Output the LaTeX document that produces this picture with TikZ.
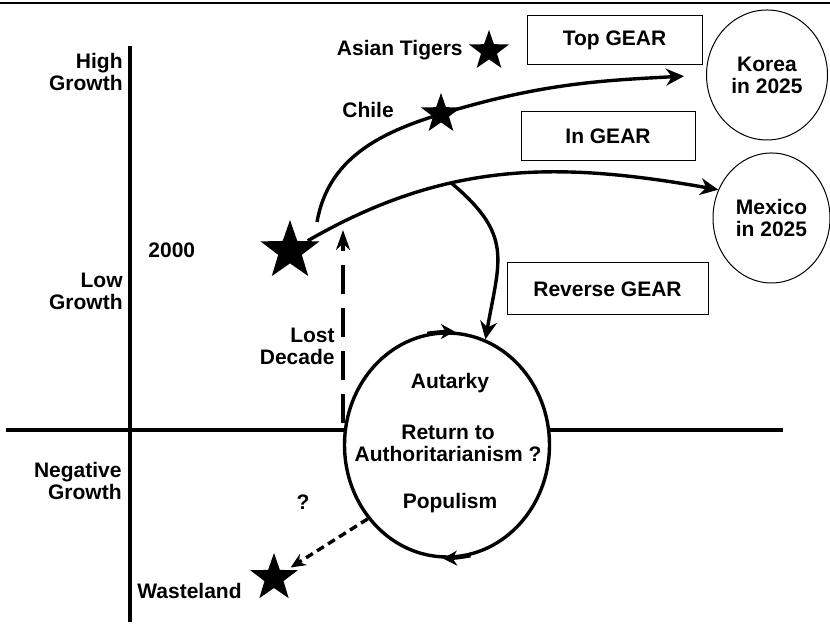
\documentclass[tikz,border=0pt]{standalone}
\usepackage{fontspec}
\setmainfont{Liberation Sans}
\usepackage{tikz}
\usetikzlibrary{positioning}
\usetikzlibrary{shapes.geometric}
\usetikzlibrary{arrows.meta}

\begin{document}
\begin{tikzpicture}[x=0.5pt, y=0.5pt, inner sep=0pt,
    font=\bfseries\fontsize{10.5}{11}\selectfont,
    axisline/.style={line width=1.6pt},
    gearbox/.style={draw, line width=0.5pt, minimum width=87.5pt, minimum height=24.5pt},
    futurebubble/.style={draw, ellipse, line width=0.5pt, align=center},
    starmark/.style={star, star points=5, star point ratio=2.5, fill=black},
    route/.style={line width=1.7pt, -{Stealth[length=9pt, width=8.5pt]}},
    lostline/.style={line width=1.7pt, dash pattern=on 14.5pt off 7pt, -{Stealth[length=10pt, width=7pt]}},
    fallline/.style={line width=1.7pt, dash pattern=on 4pt off 2.5pt, -{Stealth[length=7.5pt, width=6.5pt]}},
    cyctip/.style={line width=1.7pt, -{Stealth[length=7pt, width=7.5pt]}}]
    \useasboundingbox (0,0) rectangle (830,624);

    % Frame and axes
    \draw[line width=0.75pt] (0,621) -- (830,621);
    \draw[axisline] (130,578) -- (130,2);
    \draw[axisline] (6,194) -- (783,194);

    % Growth levels
    \node[anchor=east, align=right] (high) at (123,551.5) {High\\Growth};
    \node[anchor=east, align=right] (low) at (123,333) {Low\\Growth};
    \node[anchor=east, align=right] (negative) at (122,143) {Negative\\Growth};

    % Stars and their labels
    \node[starmark, minimum size=31pt] (today) at (290,373) {};
    \node[starmark, minimum size=21pt] (tigers) at (489,573) {};
    \node[starmark, minimum size=21pt] (chile) at (441,510) {};
    \node[starmark, minimum size=25pt] (waste) at (274,46) {};
    \node[anchor=west] (year) at (148,374) {2000};
    \node[anchor=east] (tigerstxt) at (463,574) {Asian Tigers};
    \node[anchor=west] (chiletxt) at (342,514) {Chile};
    \node[anchor=west] (wastetxt) at (137,33) {Wasteland};

    % Gears
    \node[gearbox] (topgear) at (614.5,583.5) {Top GEAR};
    \node[gearbox, minimum width=87pt] (ingear) at (608,487.5) {In GEAR};
    \node[gearbox, minimum width=100.5pt, minimum height=26pt] (revgear) at (607.5,335) {Reverse GEAR};

    % Outcomes in 2025
    \node[futurebubble, minimum width=60.5pt, minimum height=65pt] (korea) at (767,549) {Korea\\in 2025};
    \node[futurebubble, minimum width=58.5pt, minimum height=65pt] (mexico) at (771.5,406) {Mexico\\in 2025};

    % The trap
    \node[draw, fill=white, ellipse, line width=1.7pt, minimum width=102.5pt, minimum height=112pt] (trap) at (447,179) {};
    \node (autarky) at (450,241) {Autarky};
    \node[align=center] (authority) at (448,180.5) {Return to\\Authoritarianism ?};
    \node (populism) at (450,121) {Populism};
    \draw[cyctip] (trap.100) to[bend left=4] (trap.86);
    \draw[cyctip] (trap.282) to[bend left=4] (trap.268);

    % Paths out of 2000
    \coordinate (rise) at (317,402);
    \draw[route, shorten >=11pt] (rise) to[out=80, in=197] (chile.center) to[out=17, in=183] (korea.west);
    \draw[route] (today) to[out=30, in=170] coordinate[pos=0.36] (split) (mexico.152);
    \draw[route, looseness=1.3] (split) to[out=-40, in=80] (trap.70);

    % Lost decade
    \coordinate (lostfoot) at (343,201);
    \coordinate (losttop) at (343,394);
    \draw[lostline] (lostfoot) -- (losttop);
    \node[anchor=east, align=right] (lost) at (335,278) {Lost\\Decade};

    % Falling out
    \draw[fallline, shorten >=2pt] (trap.223) -- (waste);
    \node (doubt) at (303,122) {?};
\end{tikzpicture}
\end{document}
